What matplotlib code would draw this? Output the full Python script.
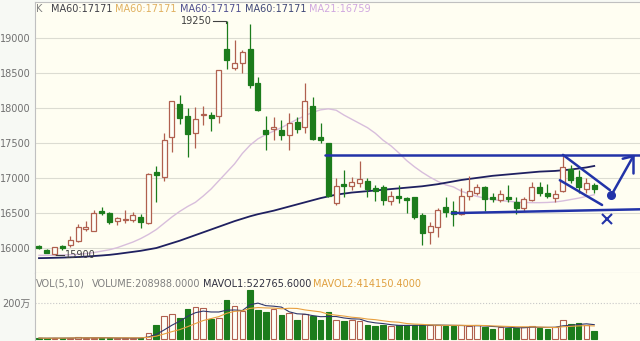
import matplotlib
matplotlib.use("Agg")
import matplotlib.pyplot as plt
import numpy as np
import pandas as pd

plt.rcParams["font.family"] = ["DejaVu Sans", "Noto Sans CJK SC"]

# 日K 数据
opens = [16020, 15965, 15905, 16020, 16035, 16100, 16270, 16245, 16530, 16500,
         16385, 16395, 16400, 16440, 16360, 17090, 17010, 17590, 18060, 17890,
         17640, 17900, 17905, 17880, 18850, 18570, 18640, 18845, 18355, 17680,
         17700, 17685, 17615, 17795, 17735, 18030, 17590, 17500, 16636, 16913,
         16888, 16932, 16960, 16851, 16865, 16669, 16741, 16708, 16731, 16469,
         16229, 16301, 16579, 16530, 16479, 16741, 16788, 16865, 16731, 16683,
         16722, 16660, 16573, 16683, 16865, 16779, 16708, 16817, 17123, 17017,
         16836, 16898]
highs = [16035, 15975, 16015, 16045, 16165, 16340, 16385, 16540, 16590, 16515,
         16445, 16540, 16505, 16480, 17065, 17175, 17640, 18100, 18190, 17995,
         18010, 18030, 17950, 18550, 19250, 18975, 18830, 19210, 18440, 17880,
         17870, 17830, 17935, 17875, 18365, 18155, 17780, 17505, 16995, 17113,
         17017, 17242, 17000, 16898, 16898, 16812, 16898, 16731, 16731, 16493,
         16373, 16565, 16722, 16665, 16850, 17027, 16912, 16880, 16779, 16827,
         16898, 16722, 16731, 16946, 16946, 16912, 16827, 17314, 17180, 17113,
         16998, 16922]
lows = [15975, 15920, 15900, 15960, 16015, 16085, 16245, 16235, 16470, 16340,
        16330, 16350, 16375, 16280, 16340, 16660, 16950, 17375, 17770, 17295,
        17435, 17760, 17670, 17780, 18560, 18540, 18500, 18290, 17965, 17400,
        17540, 17540, 17400, 17640, 17640, 17545, 17500, 16730, 16612, 16730,
        16832, 16874, 16730, 16673, 16612, 16612, 16641, 16493, 16416, 16039,
        16053, 16158, 16444, 16310, 16470, 16683, 16755, 16530, 16650, 16650,
        16650, 16479, 16530, 16665, 16741, 16712, 16650, 16803, 16932, 16779,
        16779, 16779]
closes = [16000, 15930, 16015, 16000, 16110, 16300, 16290, 16500, 16495, 16370,
          16420, 16410, 16465, 16370, 17055, 17040, 17545, 18100, 17860, 17635,
          17845, 17920, 17860, 18545, 18690, 18640, 18810, 18330, 17975, 17635,
          17725, 17615, 17780, 17695, 18095, 17560, 17550, 16740, 16888, 16884,
          16946, 16980, 16837, 16817, 16683, 16741, 16708, 16683, 16444, 16206,
          16311, 16540, 16516, 16479, 16741, 16812, 16874, 16693, 16693, 16770,
          16693, 16573, 16698, 16865, 16779, 16741, 16770, 17152, 16970, 16865,
          16932, 16836]

ma60 = [15850, 15852, 15855, 15858, 15862, 15866, 15872, 15880, 15888, 15897,
        15910, 15925, 15940, 15955, 15975, 15995, 16030, 16065, 16100, 16140,
        16180, 16220, 16260, 16300, 16340, 16380, 16415, 16450, 16480, 16505,
        16530, 16560, 16590, 16620, 16650, 16680, 16710, 16735, 16760, 16775,
        16790, 16800, 16810, 16820, 16830, 16840, 16850, 16860, 16870, 16880,
        16895, 16910, 16930, 16950, 16970, 16985, 17000, 17015, 17030, 17040,
        17050, 17060, 17070, 17080, 17090, 17095, 17100, 17110, 17120, 17135,
        17150, 17171]
ma21 = [15890, 15890, 15892, 15895, 15900, 15905, 15915, 15930, 15950, 15970,
        16000, 16040, 16080, 16130, 16190, 16260, 16350, 16440, 16520, 16590,
        16650, 16740, 16840, 16960, 17080, 17200, 17350, 17470, 17560, 17620,
        17670, 17720, 17780, 17840, 17890, 17940, 17975, 17990, 17970, 17900,
        17840, 17780, 17720, 17640, 17540, 17460, 17360, 17250, 17160, 17080,
        17010, 16950, 16900, 16870, 16810, 16770, 16735, 16710, 16690, 16675,
        16665, 16655, 16648, 16645, 16645, 16648, 16655, 16670, 16690, 16710,
        16735, 16759]

# 成交量 (万)
volume = [8, 6, 9, 7, 11, 12, 9, 10, 8, 9,
          7, 8, 8, 9, 38, 78, 130, 140, 120, 170,
          180, 175, 115, 120, 220, 185, 160, 275, 165, 150,
          170, 135, 145, 110, 140, 130, 105, 150, 110, 100,
          105, 100, 80, 75, 80, 75, 80, 78, 80, 82,
          78, 80, 75, 76, 78, 72, 80, 70, 60, 68,
          62, 65, 70, 75, 65, 60, 68, 110, 85, 90,
          80, 45]

price_ticks = [16000, 16500, 17000, 17500, 18000, 18500, 19000]

# 手画的线 (x = K线序号, y = 价格)
top_line = ([36.6, 76.9], [17330, 17330])
bottom_line = ([52.8, 76.9], [16495, 16550])
chan_upper = ([67.0, 73.0], [17330, 16825])
chan_lower = ([66.6, 72.0], [16967, 16612])
arrow_line = ([73.2, 76.0], [16755, 17312])
arrow_left = ([74.64, 76.0], [17275, 17312])
arrow_down = ([75.92, 75.92], [17066, 17312])
dot_pt = (73.2, 16755)
cross_pt = (72.6, 16407)

W, H = 640, 341
UP = "#b0604f"
DN = "#1c7c1c"
BG = "#fffef2"
BLUE = "#2233a8"

fig = plt.figure(figsize=(6.4, 3.41), dpi=100, facecolor="#f7f9f4")
ax = fig.add_axes([35 / W, (H - 273) / H, 605 / W, 271 / H], facecolor=BG)
axv = fig.add_axes([35 / W, 0, 605 / W, 68 / H], facecolor=BG)

df = pd.DataFrame({"o": opens, "h": highs, "l": lows, "c": closes, "v": volume})
idx = np.arange(len(df))
up = df["c"] >= df["o"]

# K线
for mask, col in [(up, UP), (~up, DN)]:
    ax.vlines(idx[mask], df["l"][mask], df["h"][mask], color=col, lw=0.9, zorder=3)
body_low = np.minimum(df["o"], df["c"])
body_h = np.maximum(np.abs(df["c"] - df["o"]), 14)
ax.bar(idx[up], body_h[up], bottom=body_low[up], width=0.64,
       facecolor="#fffff8", edgecolor=UP, lw=0.9, zorder=4)
ax.bar(idx[~up], body_h[~up], bottom=body_low[~up], width=0.64,
       facecolor=DN, edgecolor=DN, lw=0.9, zorder=4)

# 均线
ax.plot(idx, ma21, color="#d8bedc", lw=1.0, zorder=2)
ax.plot(idx, ma60, color="#1f2060", lw=1.3, zorder=2)

# 手画标注
for seg in [top_line, bottom_line, chan_upper, chan_lower, arrow_line, arrow_left, arrow_down]:
    ax.plot(seg[0], seg[1], color=BLUE, lw=1.8, zorder=6, solid_capstyle="round")
ax.plot(*dot_pt, marker="o", ms=5.5, color=BLUE, zorder=7)
ax.plot(*cross_pt, marker="x", ms=7, mew=1.5, color=BLUE, zorder=7)

# 最高/最低标注
ax.plot([22.3, 23.85, 23.85], [19250, 19250, 19225], color="#404040", lw=0.8, zorder=5)
ax.text(22.15, 19250, "19250", ha="right", va="center", fontsize=7, color="#404040")
ax.plot([2.2, 3.2], [15900, 15900], color="#404040", lw=0.8, zorder=5)
ax.text(3.3, 15900, "15900", ha="left", va="center", fontsize=7, color="#404040")

ax.set_xlim(-0.51, 76.85)
ax.set_ylim(15637, 19521)
ax.set_yticks(price_ticks)
ax.set_yticklabels([str(t) for t in price_ticks])
ax.grid(axis="y", color="#dcdcd2", lw=0.8)
ax.set_axisbelow(True)
ax.set_xticks([])
ax.tick_params(axis="y", length=0, pad=3, labelsize=7, labelcolor="#707070")
for s in ["right"]:
    ax.spines[s].set_visible(False)
for s in ["left", "top", "bottom"]:
    ax.spines[s].set_color("#c0c0c0")
    ax.spines[s].set_linewidth(0.8)

# 成交量
axv.bar(idx[up], df["v"][up], width=0.72, facecolor="#fffff8", edgecolor=UP, lw=0.8, zorder=3)
axv.bar(idx[~up], df["v"][~up], width=0.72, facecolor=DN, edgecolor=DN, lw=0.8, zorder=3)
axv.plot(idx, df["v"].rolling(5, min_periods=1).mean(), color="#30366a", lw=0.8, zorder=4)
axv.plot(idx, df["v"].rolling(10, min_periods=1).mean(), color="#e8a040", lw=0.8, zorder=4)
axv.set_xlim(-0.51, 76.85)
axv.set_ylim(-8.3, 367.4)
axv.set_yticks([200])
axv.set_yticklabels(["200万"])
axv.grid(axis="y", color="#c8c8c8", lw=0.8, ls=":")
axv.set_axisbelow(True)
axv.set_xticks([])
axv.tick_params(axis="y", length=0, pad=3, labelsize=7, labelcolor="#707070")
for s in ["right", "bottom", "top"]:
    axv.spines[s].set_visible(False)
axv.spines["left"].set_color("#c0c0c0")
axv.spines["left"].set_linewidth(0.8)


def ftext(x, y, s, color):
    fig.text(x / W, 1 - y / H, s, ha="left", va="center", fontsize=7, color=color)


ftext(36, 9, "K", "#808080")
ftext(50.5, 9, "MA60:17171", "#404048")
ftext(115, 9, "MA60:17171", "#e0b060")
ftext(180, 9, "MA60:17171", "#505090")
ftext(245, 9, "MA60:17171", "#404878")
ftext(309, 9, "MA21:16759", "#d0a8e0")

ftext(36, 284, "VOL(5,10)", "#808080")
ftext(91.5, 284, "VOLUME:208988.0000", "#808080")
ftext(203, 284, "MAVOL1:522765.6000", "#303040")
ftext(313, 284, "MAVOL2:414150.4000", "#e0a040")

fig.savefig("out.png", dpi=100, facecolor=fig.get_facecolor())
